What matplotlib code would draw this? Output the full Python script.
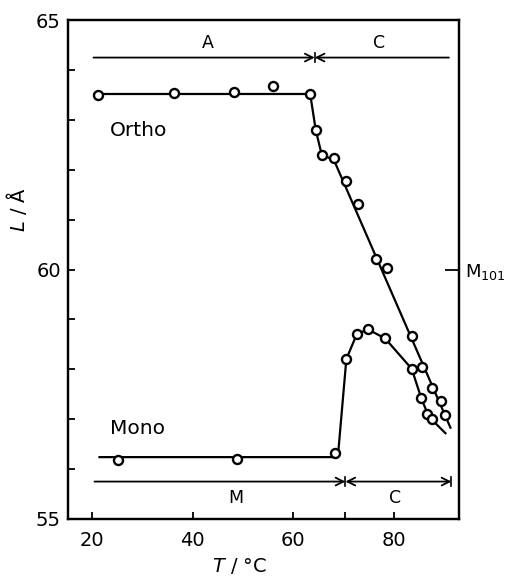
import matplotlib
matplotlib.use('Agg')
import matplotlib.pyplot as plt

#=== DATA ===#

# Ortho: measured points
ortho_T = [21.1, 36.4, 48.2, 56.0, 63.4, 64.5, 65.7, 68.1, 70.5, 73.0,
           76.4, 78.6, 83.7, 85.7, 87.7, 89.4, 90.3]
ortho_L = [63.50, 63.53, 63.55, 63.68, 63.52, 62.80, 62.30, 62.23, 61.78, 61.32,
           60.22, 60.03, 58.67, 58.05, 57.63, 57.37, 57.08]
# Ortho: drawn line
ortho_line_T = [20.5, 63.4, 64.5, 65.7, 68.1, 91.3]
ortho_line_L = [63.52, 63.52, 62.80, 62.30, 62.20, 56.83]

# Mono: measured points
mono_T = [25.2, 48.9, 68.4, 70.6, 72.7, 74.9, 78.3, 83.6, 85.5, 86.7, 87.7]
mono_L = [56.19, 56.21, 56.32, 58.21, 58.71, 58.80, 58.62, 58.01, 57.42, 57.11, 57.01]
# Mono: drawn line
mono_line_T = [21.5, 68.9, 70.6, 72.7, 74.9, 78.3, 83.6, 85.5, 87.0, 90.3]
mono_line_L = [56.24, 56.24, 58.21, 58.71, 58.80, 58.62, 58.01, 57.42, 57.05, 56.72]

# phase ranges (start, end, label)
top_phases = [(20.3, 64.3, 'A'), (64.3, 91.0, 'C')]
bottom_phases = [(20.5, 70.4, 'M'), (70.4, 91.5, 'C')]

#=== PLOT ===#

plt.rcParams['font.family'] = 'DejaVu Sans'

fig = plt.figure(figsize=(5.14, 5.76), dpi=100)
ax = fig.add_axes([0.132, 0.099, 0.761, 0.866])

ax.plot(ortho_line_T, ortho_line_L, color='black', lw=1.6, zorder=2)
ax.plot(mono_line_T, mono_line_L, color='black', lw=1.6, zorder=2)
ax.plot(ortho_T, ortho_L, 'o', ms=6.5, mfc='white', mec='black', mew=1.7, zorder=3)
ax.plot(mono_T, mono_L, 'o', ms=6.5, mfc='white', mec='black', mew=1.7, zorder=3)

ax.text(23.5, 62.78, 'Ortho', fontsize=14.5, va='center', ha='left')
ax.text(23.5, 56.81, 'Mono', fontsize=14.5, va='center', ha='left')

# top arrows: A | C
y_top = 64.25
ax.annotate('', xy=(top_phases[0][1], y_top), xytext=(top_phases[0][0], y_top),
            arrowprops=dict(arrowstyle='->', lw=1.3, color='black',
                            shrinkA=0, shrinkB=0, mutation_scale=14))
ax.annotate('', xy=(top_phases[1][0], y_top), xytext=(top_phases[1][1], y_top),
            arrowprops=dict(arrowstyle='->', lw=1.3, color='black',
                            shrinkA=0, shrinkB=0, mutation_scale=14))
ax.plot([top_phases[0][1]] * 2, [y_top - 0.09, y_top + 0.09], color='black', lw=1.2)
ax.text(43.0, 64.54, top_phases[0][2], fontsize=12.5, ha='center', va='center')
ax.text(77.1, 64.54, top_phases[1][2], fontsize=12.5, ha='center', va='center')

# bottom arrows: M | C
y_bot = 55.75
ax.annotate('', xy=(bottom_phases[0][1], y_bot), xytext=(bottom_phases[0][0], y_bot),
            arrowprops=dict(arrowstyle='->', lw=1.3, color='black',
                            shrinkA=0, shrinkB=0, mutation_scale=14))
ax.annotate('', xy=(bottom_phases[1][1], y_bot), xytext=(bottom_phases[1][0], y_bot),
            arrowprops=dict(arrowstyle='<->', lw=1.3, color='black',
                            shrinkA=0, shrinkB=0, mutation_scale=14))
for xv in (bottom_phases[0][1], bottom_phases[1][1]):
    ax.plot([xv, xv], [y_bot - 0.09, y_bot + 0.09], color='black', lw=1.2)
ax.text(48.6, 55.42, bottom_phases[0][2], fontsize=12.5, ha='center', va='center')
ax.text(80.2, 55.42, bottom_phases[1][2], fontsize=12.5, ha='center', va='center')

ax.set_xlim(15.2, 93.0)
ax.set_ylim(55, 65)

ax.set_xticks([20, 40, 60, 70.4, 80])
ax.set_xticklabels(['20', '40', '60', '', '80'])
ax.set_yticks([55, 60, 65])
ax.set_yticks(range(56, 65), minor=True)
ax.tick_params(axis='both', direction='in', labelsize=14, width=1.3, length=5)
ax.tick_params(axis='x', pad=9)
ax.tick_params(axis='y', pad=5)
ax.tick_params(axis='y', which='minor', direction='in', width=1.3, length=5)

for s in ax.spines.values():
    s.set_linewidth(1.6)

ax.set_xlabel('$T$ / °C', fontsize=14, labelpad=0)
ax.xaxis.set_label_coords(0.44, -0.075)
ax.set_ylabel('$L$ / Å', fontsize=14)
ax.yaxis.set_label_coords(-0.10, 0.62)

ax2 = ax.twinx()
ax2.set_ylim(55, 65)
ax2.set_yticks([60])
ax2.set_yticklabels(['M$_{101}$'])
ax2.tick_params(axis='y', direction='in', labelsize=13, width=1.3, length=10, pad=4)
for s in ax2.spines.values():
    s.set_linewidth(1.6)

fig.savefig('out.png', dpi=100)
